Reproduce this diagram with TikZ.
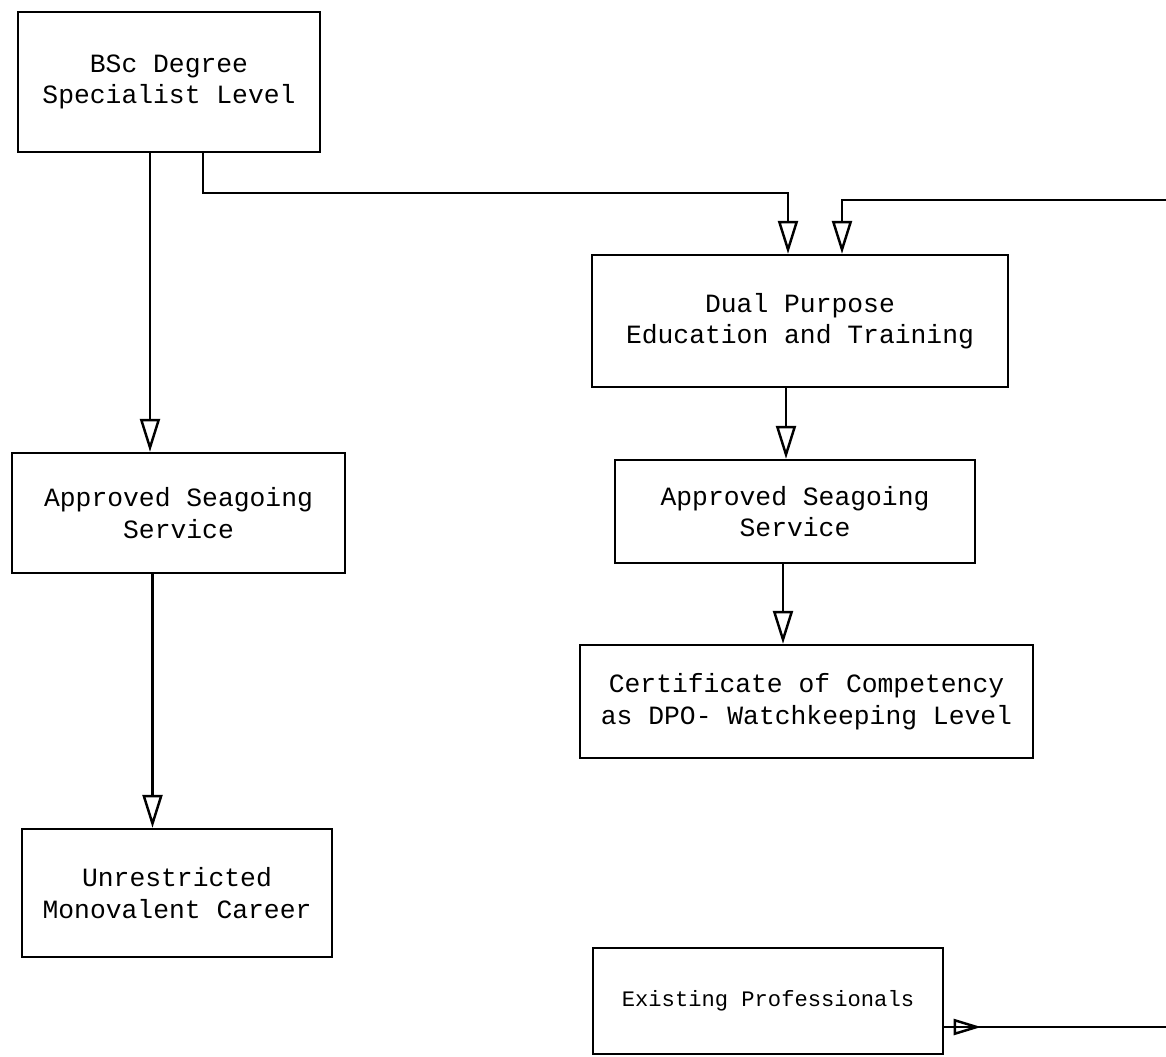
\documentclass[tikz,border=0pt]{standalone}
\usepackage{fontspec}
\newfontfamily\boxfont{Liberation Mono}
\usepackage{tikz}
\usetikzlibrary{arrows.meta,calc,positioning}

\begin{document}
\begin{tikzpicture}[x=0.02cm,y=-0.02cm,
  box/.style={draw,line width=1.4pt,align=center,inner sep=0pt,font=\boxfont\fontsize{15}{18}\selectfont},
  flow/.style={line width=1.4pt,-{Triangle[open,length=0.66cm,width=0.4cm]}},
  plain/.style={line width=1.4pt}]
\useasboundingbox (0,0) rectangle (1166,1056);
\node[box,minimum width=6.04cm,minimum height=2.8cm] (BSc) at (169,82) {BSc Degree\\Specialist Level};
\node[box,minimum width=6.66cm,minimum height=2.4cm] (App1) at (178.5,513) {Approved Seagoing\\Service};
\node[box,minimum width=6.2cm,minimum height=2.56cm] (Unres) at (177,893) {Unrestricted\\Monovalent Career};
\node[box,minimum width=8.32cm,minimum height=2.64cm] (Dual) at (800,321) {Dual Purpose\\Education and Training};
\node[box,minimum width=7.2cm,minimum height=2.06cm] (App2) at (795,511.5) {Approved Seagoing\\Service};
\node[box,minimum width=9.06cm,minimum height=2.26cm] (Cert) at (806.5,701.5) {Certificate of Competency\\as DPO- Watchkeeping Level};
\node[box,minimum width=7cm,minimum height=2.12cm,font=\boxfont\fontsize{12.6}{15}\selectfont] (EP) at (768,1001) {Existing Professionals};
\coordinate (feed) at (1166,200);
\coordinate (exit) at (1166,1027);
% left column
\draw[flow] ($(BSc.south)+(-19,0)$) coordinate (b1) -- (b1 |- App1.north);
\draw[flow] ($(App1.south)+(-26,0)$) coordinate (b2) -- (b2 |- Unres.north);
% into dual purpose
\draw[flow] ($(BSc.south)+(34,0)$) -- ++(0,40) -| ($(Dual.north)+(-12,0)$);
\draw[flow] (feed) -| ($(Dual.north)+(42,0)$);
% right column
\draw[flow] ($(Dual.south)+(-14,0)$) coordinate (b3) -- (b3 |- App2.north);
\draw[flow] ($(App2.south)+(-12,0)$) coordinate (b4) -- (b4 |- Cert.north);
% existing professionals
\draw[plain] ($(EP.east)+(0,26)$) coordinate (e0) -- (e0 -| exit);
\draw[line width=1.4pt,-{Triangle[open,length=0.55cm,width=0.32cm]}] (e0) -- ++(37,0);
\end{tikzpicture}
\end{document}
